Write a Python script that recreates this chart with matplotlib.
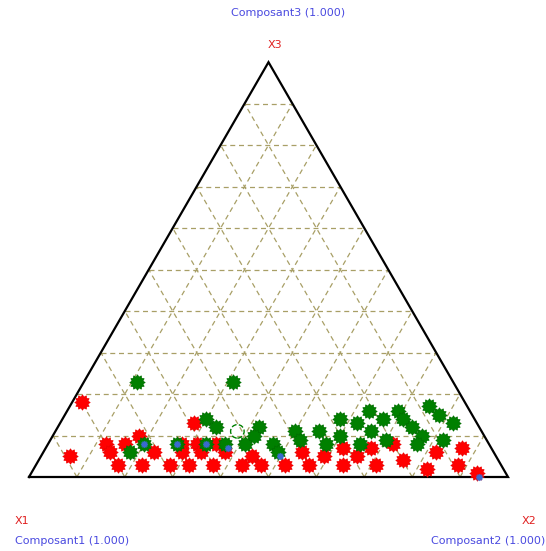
import numpy as np
import matplotlib
matplotlib.use("Agg")
import matplotlib.pyplot as plt
from matplotlib.path import Path

# compositions (X1, X2, X3) in percent
red_x1 = [80, 89, 80, 80, 80, 76, 72, 75, 71, 69, 64, 65, 65, 59, 61, 61, 57, 60, 56, 54, 51, 50,
          45, 40, 40, 36, 31, 33, 29, 25, 26, 20, 20, 16, 12, 9, 6, 6]
red_x2 = [2, 6, 12, 14, 17, 16, 18, 22, 23, 28, 28, 29, 32, 28, 31, 33, 35, 37, 38, 43, 44, 47,
          52, 54, 57, 59, 62, 64, 66, 68, 71, 72, 76, 82, 82, 88, 87, 93]
red_x3 = [18, 5, 8, 6, 3, 8, 10, 3, 6, 3, 8, 6, 3, 13, 8, 6, 8, 3, 6, 3, 5, 3,
          3, 6, 3, 5, 7, 3, 5, 7, 3, 8, 4, 2, 6, 3, 7, 1]

green_x1 = [66, 46, 56, 55, 76, 72, 65, 59, 55, 46, 48, 51, 45, 45, 39, 39, 34, 34, 28, 30, 25, 27,
            21, 23, 19, 21, 15, 15, 14, 13, 15, 8, 7, 5, 9]
green_x2 = [11, 31, 30, 33, 18, 20, 27, 33, 37, 42, 42, 41, 47, 49, 50, 52, 55, 58, 58, 60, 62, 65,
            63, 66, 67, 70, 69, 71, 74, 77, 77, 75, 78, 82, 82]
green_x3 = [23, 23, 14, 12, 6, 8, 8, 8, 8, 12, 10, 8, 8, 6, 11, 9, 11, 8, 14, 10, 13, 8,
            16, 11, 14, 9, 16, 14, 12, 10, 8, 17, 15, 13, 9]

blue_x1 = [72, 65, 59, 55, 45, 6]
blue_x2 = [20, 27, 33, 38, 50, 94]
blue_x3 = [8, 8, 8, 7, 5, 0]

open_x1 = [51]
open_x2 = [38]
open_x3 = [11]

W, H = 546, 551
fig = plt.figure(figsize=(W / 100, H / 100), dpi=100)
fig.patch.set_facecolor("white")
bx0, by0, bw = 29, 477, 479
bh = bw * np.sqrt(3) / 2
ax = fig.add_axes([bx0 / W, (H - by0) / H, bw / W, bh / H])
ax.set_xlim(0, 1)
ax.set_ylim(0, np.sqrt(3) / 2)
ax.axis("off")


def tern(x1, x2, x3):
    a = np.asarray(x1, float); b = np.asarray(x2, float); c = np.asarray(x3, float)
    s = a + b + c
    b = b / s; c = c / s
    return b + c / 2, c * np.sqrt(3) / 2


# grid
gcol = "#a89f66"
for i in range(1, 10):
    f = i / 10
    p = tern([1 - f, 0], [0, 1 - f], [f, f])
    ax.plot(p[0], p[1], ls=(0, (4, 3)), color=gcol, lw=0.9, zorder=1)
    p = tern([f, f], [1 - f, 0], [0, 1 - f])
    ax.plot(p[0], p[1], ls=(0, (4, 3)), color=gcol, lw=0.9, zorder=1)
    p = tern([1 - f, 0], [f, f], [0, 1 - f])
    ax.plot(p[0], p[1], ls=(0, (4, 3)), color=gcol, lw=0.9, zorder=1)

# triangle
p = tern([1, 0, 0, 1], [0, 1, 0, 0], [0, 0, 1, 0])
ax.plot(p[0], p[1], color="black", lw=1.6, zorder=2, clip_on=False, solid_joinstyle="miter")

flower = Path.unit_regular_star(12, innerCircle=0.72)

x, y = tern(red_x1, red_x2, red_x3)
ax.scatter(x, y, marker=flower, s=120, c="#ff0000", edgecolors="#ee0000", linewidths=0.6, zorder=4, clip_on=False)
x, y = tern(green_x1, green_x2, green_x3)
ax.scatter(x, y, marker=flower, s=120, c="#008000", edgecolors="#007000", linewidths=0.6, zorder=5, clip_on=False)
x, y = tern(blue_x1, blue_x2, blue_x3)
ax.scatter(x, y, marker=flower, s=25, c="#3a6ad0", edgecolors="#3a6ad0", linewidths=0.3, zorder=6, clip_on=False)
x, y = tern(open_x1, open_x2, open_x3)
ax.scatter(x, y, marker="o", s=95, facecolors="none", edgecolors="#008000", linewidths=1.0,
           linestyles="--", zorder=6)


def ftext(px, py, s, color, ha="center"):
    fig.text(px / W, 1 - py / H, s, color=color, ha=ha, va="center", fontsize=8, family="DejaVu Sans")

blue = "#4a4ae0"
red = "#e02020"
ftext(288, 13, "Composant3 (1.000)", blue)
ftext(275, 45, "X3", red)
ftext(22, 521, "X1", red)
ftext(15, 541, "Composant1 (1.000)", blue, ha="left")
ftext(529, 521, "X2", red)
ftext(545, 541, "Composant2 (1.000)", blue, ha="right")

fig.savefig("out.png", dpi=100, facecolor="white")
